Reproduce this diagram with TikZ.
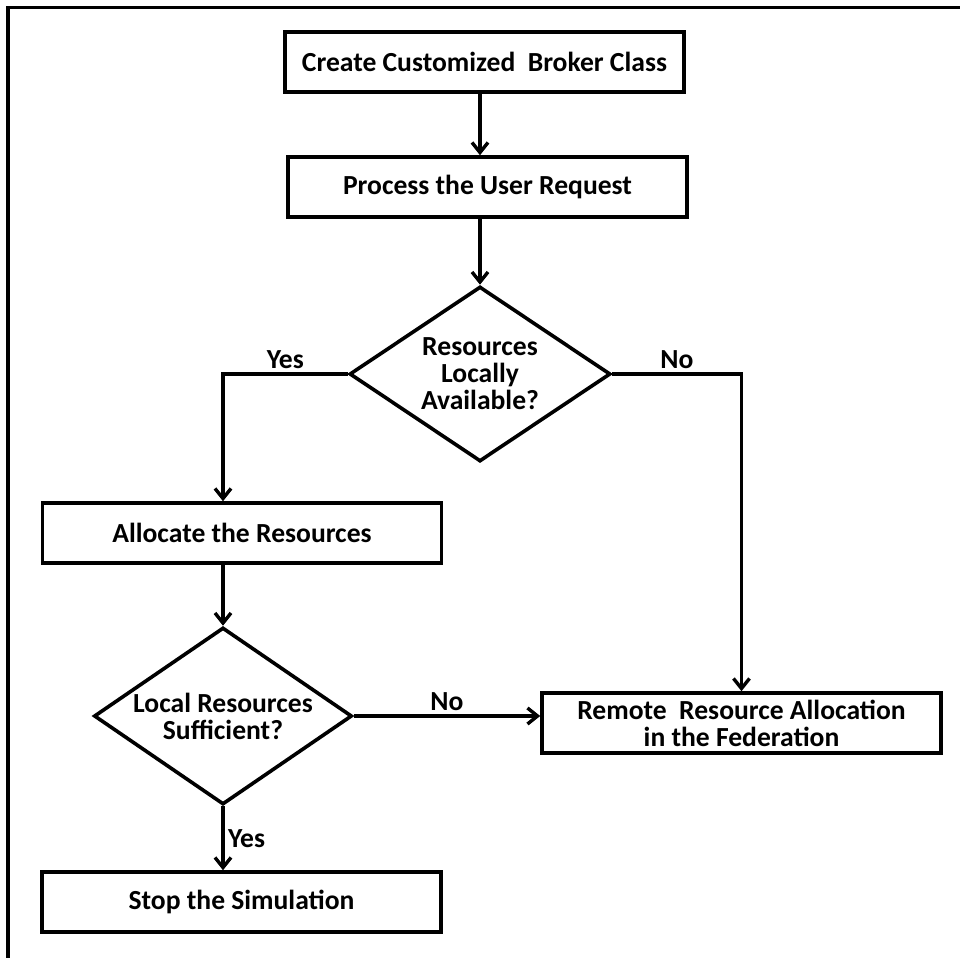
\documentclass[tikz,border=0pt]{standalone}
\usepackage{fontspec}
\setmainfont{Carlito}
\usetikzlibrary{shapes.geometric,arrows.meta}

\begin{document}
\begin{tikzpicture}[x=1pt,y=1pt,
        font=\bfseries\fontsize{27.6}{27}\selectfont,
        procbox/.style={draw, line width=3.6pt, minimum width=399pt, minimum height=60pt, inner sep=0pt, align=center},
        decision/.style={draw, diamond, line width=3.6pt, inner sep=0pt, align=center},
        flow/.style={line width=3.4pt, -{Straight Barb[length=10pt,width=16pt]}}]
    \useasboundingbox (0,0) rectangle (960,-958);
    \draw[line width=3.2pt] (960,-7.5) -- (8,-7.5) -- (8,-958);
    % boxes and decisions
    \node[procbox] (create) at (484.5,-62) {Create Customized~ Broker Class};
    \node[procbox] (request) at (487.5,-187) {Process the User Request};
    \node[decision, aspect=1.48, minimum width=261pt, minimum height=175pt] (avail) at (480,-374) {Resources\\Locally\\Available?};
    \node[procbox] (allocate) at (242,-533) {Allocate the Resources};
    \node[decision, aspect=1.45, minimum width=258pt, minimum height=177pt] (decide) at (223,-716) {Local Resources\\Sufficient?};
    \node[procbox] (remote) at (741.5,-723) {Remote~ Resource Allocation\\in the Federation};
    \node[procbox] (stop) at (241.5,-902) {Stop the Simulation};
    % connectors
    \draw[flow] (create.south -| avail) -- (request.north -| avail);
    \draw[flow] (request.south -| avail) -- (avail.north);
    \draw[flow] (avail.west) -| node[pos=0.25, above] {Yes} (allocate.north -| decide);
    \draw[flow] (avail.east) -| node[pos=0.25, above] {No} (remote.north);
    \draw[flow] (allocate.south -| decide) -- (decide.north);
    \draw[flow] (decide.east) -- node[above] {No} (decide.east -| remote.west);
    \draw[flow] (decide.south) -- node[right] {Yes} (stop.north -| decide);
\end{tikzpicture}
\end{document}
